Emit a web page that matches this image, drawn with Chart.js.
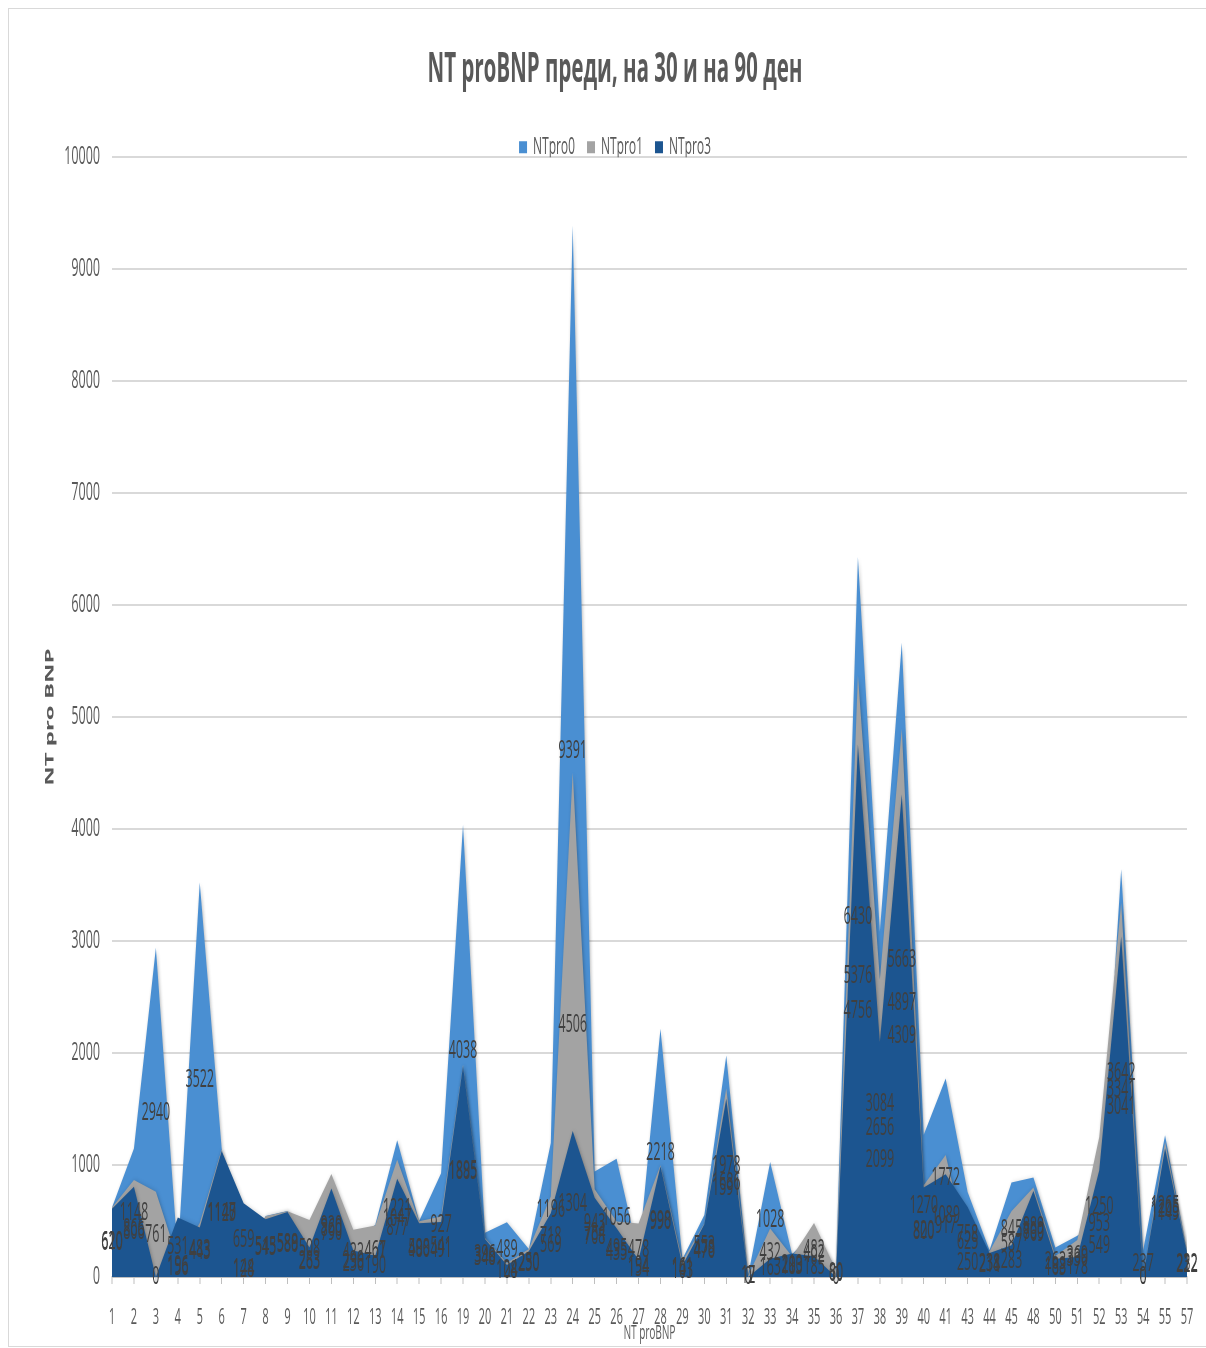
<!DOCTYPE html>
<html>
<head>
<meta charset="utf-8">
<script src="https://cdn.jsdelivr.net/npm/chart.js@4.4.1/dist/chart.umd.min.js"></script>
<style>
  html, body { margin: 0; padding: 0; background: #ffffff; }
  #wrap { position: relative; width: 1206px; height: 1348px; overflow: hidden; }
  #frame { position: absolute; left: 8px; top: 8px; width: 1220px; height: 1337px; border: 1px solid #d9d9d9; }
  #c { position: absolute; left: 0; top: 0; }
</style>
</head>
<body>
<div id="wrap">
  <div id="frame"></div>
  <!-- drawn on a double-width bitmap and shown at half width (condensed look) -->
  <canvas id="c" width="2412" height="1348" style="width:1206px;height:1348px"></canvas>
</div>
<script>
// Patient numbers on the category axis
const patients = ['1','2','3','4','5','6','7','8','9','10','11','12','13','14','15','16','19','20','21','22',
  '23','24','25','26','27','28','29','30','31','32','33','34','35','36','37','38','39','40','41','43',
  '44','45','48','50','51','52','53','54','55','57'];

// NT proBNP before treatment
const ntpro0 = [620, 1148, 2940, 196, 3522, 1147, 144, 545, 589, 283, 860, 290, 467, 1221, 500, 927, 4038, 396, 489, 250,
  1196, 9391, 943, 1056, 194, 2218, 161, 553, 1978, 17, 1028, 203, 402, 80, 6430, 3084, 5663, 1270, 1772, 758,
  238, 845, 889, 263, 369, 549, 3642, 237, 1265, 232];

// NT proBNP on day 30
const ntpro1 = [620, 866, 761, 156, 483, 1140, 128, 543, 588, 508, 920, 422, 461, 1047, 498, 541, 1895, 348, 124, 250,
  718, 4506, 784, 495, 478, 998, 141, 478, 1686, 12, 432, 183, 482, 60, 5376, 2656, 4897, 820, 1089, 250,
  231, 587, 800, 188, 330, 1250, 3341, 0, 1205, 222];

// NT proBNP on day 90
const ntpro3 = [610, 806, 0, 531, 443, 1125, 659, 515, 580, 263, 790, 236, 190, 877, 480, 491, 1885, 340, 108, 230,
  569, 1304, 708, 435, 154, 990, 103, 470, 1591, 0, 163, 210, 185, 0, 4756, 2099, 4309, 800, 917, 625,
  214, 283, 769, 163, 178, 953, 3041, 0, 1149, 212];

const seriesNames = ['NTpro0', 'NTpro1', 'NTpro3'];
const seriesColors = ['#4a8fd2', '#a3a3a3', '#1c5590'];

const FONT = '"Open Sans", "Noto Sans", "DejaVu Sans", sans-serif';
const TEXT = '#595959';

// Soft shadow under the filled areas
const areaShadow = {
  id: 'areaShadow',
  beforeDatasetsDraw(chart) {
    const ctx = chart.ctx;
    ctx.save();
    ctx.shadowColor = 'rgba(0,0,0,0.28)';
    ctx.shadowBlur = 6;
    ctx.shadowOffsetX = 2;
    ctx.shadowOffsetY = 2;
  },
  afterDatasetsDraw(chart) {
    chart.ctx.restore();
  }
};

// Value labels placed half-way up each area
const valueLabels = {
  id: 'valueLabels',
  afterDatasetsDraw(chart) {
    const { ctx } = chart;
    const yScale = chart.scales.y;
    ctx.save();
    ctx.font = '25px ' + FONT;
    ctx.fillStyle = '#404040';
    ctx.textAlign = 'center';
    ctx.textBaseline = 'middle';
    chart.data.datasets.forEach((ds, i) => {
      const meta = chart.getDatasetMeta(i);
      meta.data.forEach((pt, j) => {
        const v = ds.data[j];
        ctx.fillText(String(v), pt.x, yScale.getPixelForValue(v / 2));
      });
    });
    ctx.restore();
  }
};

// Lets the legend row sit close to the top gridline
const legendTrim = {
  id: 'legendTrim',
  beforeLayout(chart) {
    const lg = chart.legend;
    if (lg && !lg.__trimmed) {
      const fit = lg.fit;
      lg.fit = function () {
        fit.call(this);
        this.height = Math.max(0, this.height - 12);
      };
      lg.__trimmed = true;
    }
  }
};

const orders = [3, 2, 1];
const datasets = [ntpro0, ntpro1, ntpro3].map((arr, i) => ({
  label: seriesNames[i],
  data: arr,
  backgroundColor: seriesColors[i],
  borderColor: 'rgba(0,0,0,0)',
  borderWidth: 0,
  pointRadius: 0,
  pointHoverRadius: 0,
  tension: 0,
  fill: 'origin',
  order: orders[i]
}));

new Chart(document.getElementById('c'), {
  type: 'line',
  data: { labels: patients, datasets },
  options: {
    responsive: false,
    devicePixelRatio: 1,
    animation: false,
    events: [],
    layout: { padding: { left: 86, right: 38, top: 0, bottom: 0 } },
    plugins: {
      title: {
        display: true,
        text: 'NT proBNP преди, на 30 и на 90 ден',
        color: TEXT,
        font: { family: FONT, size: 41, weight: 'bold', lineHeight: 1.2 },
        padding: { top: 46, bottom: 16 }
      },
      legend: {
        display: true,
        position: 'top',
        labels: {
          color: TEXT,
          font: { family: FONT, size: 24 },
          boxWidth: 16,
          boxHeight: 12,
          padding: 24,
          sort: (a, b) => a.datasetIndex - b.datasetIndex
        }
      },
      tooltip: { enabled: false }
    },
    scales: {
      x: {
        type: 'category',
        offset: false,
        grid: {
          display: true,
          drawOnChartArea: false,
          drawTicks: true,
          tickLength: 7,
          color: '#bfbfbf',
          lineWidth: 2,
          offset: false
        },
        border: { display: true, color: '#bfbfbf', width: 2 },
        ticks: {
          color: TEXT,
          font: { family: FONT, size: 22 },
          padding: 21,
          maxRotation: 0,
          minRotation: 0,
          autoSkip: false
        },
        title: {
          display: true,
          text: 'NT proBNP',
          color: TEXT,
          font: { family: FONT, size: 20, lineHeight: 1.2 },
          padding: { top: 0, bottom: 3 }
        },
        afterFit(scale) { scale.height = 71; }
      },
      y: {
        min: 0,
        max: 10000,
        grid: {
          color: '#d9d9d9',
          lineWidth: 2,
          drawTicks: false
        },
        border: { display: false },
        ticks: {
          stepSize: 1000,
          color: TEXT,
          font: { family: FONT, size: 25 },
          padding: 24,
          callback: (v) => String(v)
        },
        title: {
          display: true,
          text: 'NT pro BNP',
          color: TEXT,
          font: { family: FONT, size: 24, weight: 'bold', lineHeight: 1.2 },
          padding: { top: 0, bottom: 0 }
        },
        afterFit(scale) { scale.width = 138; }
      }
    }
  },
  plugins: [legendTrim, areaShadow, valueLabels]
});
</script>
</body>
</html>
